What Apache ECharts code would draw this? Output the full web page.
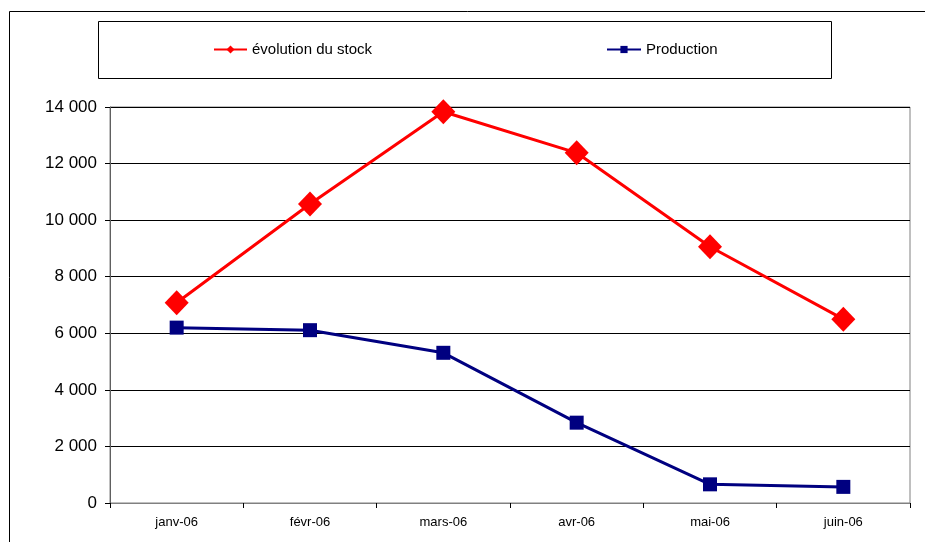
<!DOCTYPE html>
<html>
<head>
<meta charset="utf-8">
<script src="https://cdn.jsdelivr.net/npm/echarts@6/dist/echarts.min.js"></script>
<style>
  html, body { margin: 0; padding: 0; background: #fff; }
  #chart { width: 925px; height: 542px; }
</style>
</head>
<body>
<div id="chart"></div>
<script>
// Monthly categories (first half of 2006)
var months = ['janv-06', 'févr-06', 'mars-06', 'avr-06', 'mai-06', 'juin-06'];
// Stock level per month
var stockValues = [7080, 10570, 13830, 12380, 9060, 6500];
// Production per month
var productionValues = [6200, 6110, 5310, 2840, 660, 570];
// Value axis ticks
var yMin = 0, yMax = 14000, yStep = 2000;

var FONT = '"Liberation Sans", Arial, sans-serif';

function frNumber(v) {
  return String(v).replace(/\B(?=(\d{3})+(?!\d))/g, ' ');
}

var chart = echarts.init(document.getElementById('chart'), null, { renderer: 'canvas' });

chart.setOption({
  animation: false,
  backgroundColor: '#ffffff',
  textStyle: { fontFamily: FONT },
  graphic: [
    { type: 'rect', shape: { x: 9.5, y: 11.5, width: 940, height: 560 },
      style: { fill: 'none', stroke: '#000', lineWidth: 1 }, silent: true, z: -1 },
    { type: 'rect', shape: { x: 98.5, y: 21.5, width: 733, height: 57 },
      style: { fill: 'none', stroke: '#000', lineWidth: 1 }, silent: true, z: -1 }
  ],
  legend: [
    {
      data: ['évolution du stock'],
      left: 213, top: 42, padding: 0,
      itemWidth: 33, itemHeight: 10, itemGap: 4,
      textStyle: { fontFamily: FONT, fontSize: 15, color: '#000' }
    },
    {
      data: ['Production'],
      left: 606, top: 42, padding: 0,
      itemWidth: 34, itemHeight: 9, itemGap: 4,
      textStyle: { fontFamily: FONT, fontSize: 15, color: '#000' }
    }
  ],
  grid: {
    left: 110, right: 15, top: 107, bottom: 39,
    show: true, borderColor: '#808080', borderWidth: 1,
    containLabel: false
  },
  xAxis: {
    type: 'category',
    data: months,
    boundaryGap: true,
    axisLine: { lineStyle: { color: '#808080', width: 1 } },
    axisTick: { show: true, alignWithLabel: false, length: 5, lineStyle: { color: '#000' } },
    axisLabel: { fontFamily: FONT, fontSize: 13, color: '#000', margin: 13 },
    splitLine: { show: false }
  },
  yAxis: {
    type: 'value',
    min: yMin, max: yMax, interval: yStep,
    axisLine: { show: true, lineStyle: { color: '#606060', width: 1 } },
    axisTick: { show: true, length: 5, lineStyle: { color: '#000' } },
    axisLabel: { fontFamily: FONT, fontSize: 17, color: '#000', margin: 13,
      formatter: function (v) { return frNumber(v); } },
    splitLine: { show: true, lineStyle: { color: '#000', width: 1 } }
  },
  series: [
    {
      name: 'évolution du stock',
      type: 'line',
      data: stockValues,
      symbol: 'diamond',
      symbolSize: [24, 25],
      lineStyle: { color: '#ff0000', width: 3 },
      itemStyle: { color: '#ff0000' },
      z: 3
    },
    {
      name: 'Production',
      type: 'line',
      data: productionValues,
      symbol: 'rect',
      symbolSize: 14,
      lineStyle: { color: '#000080', width: 3 },
      itemStyle: { color: '#000080' },
      z: 3
    }
  ]
});
</script>
</body>
</html>
